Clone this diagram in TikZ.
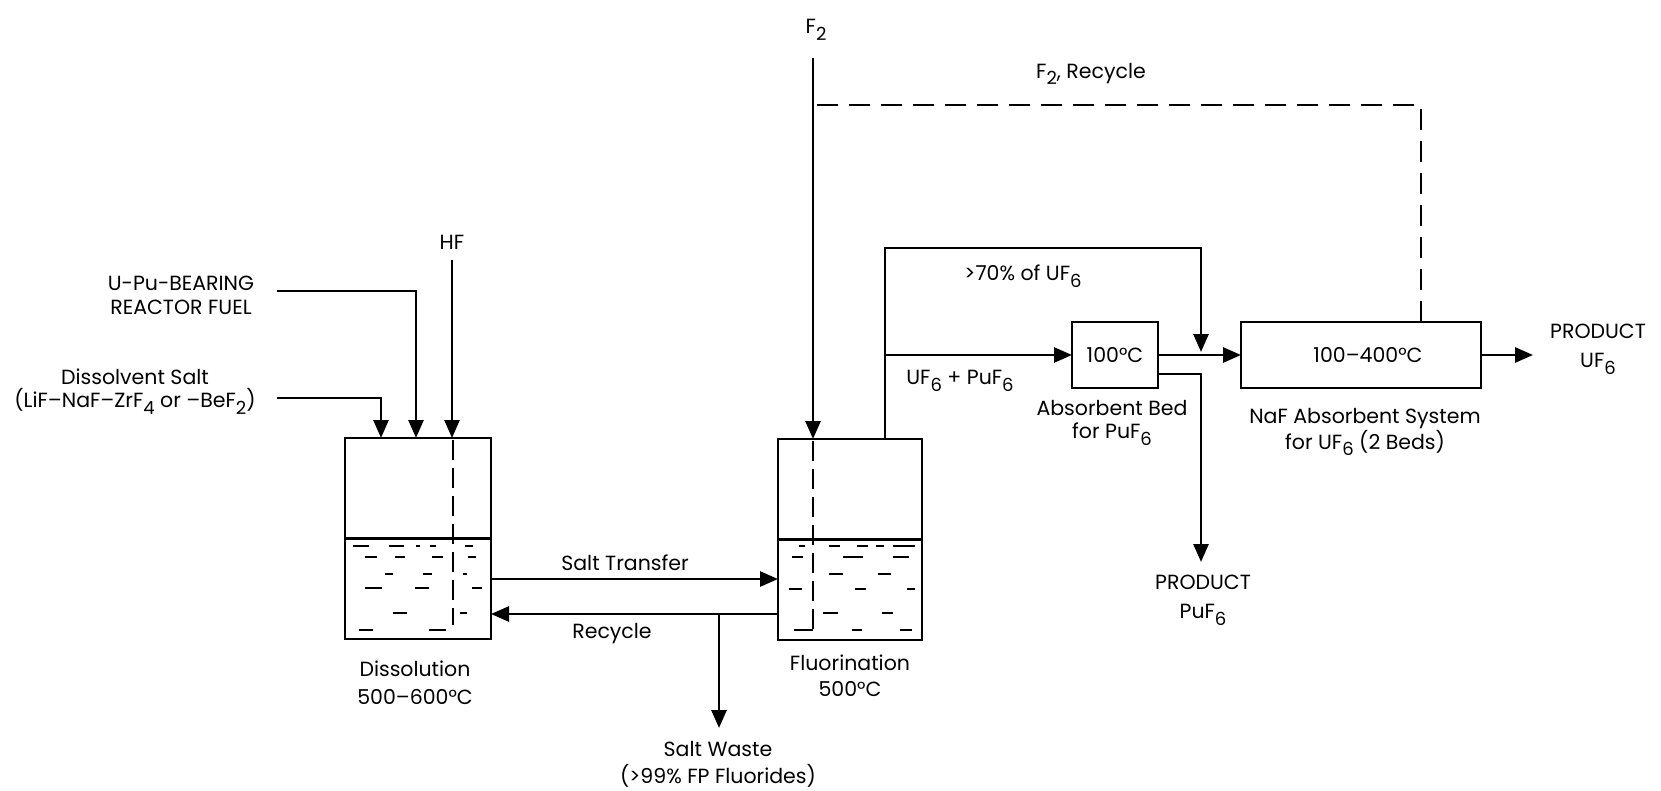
\documentclass[tikz,border=0pt]{standalone}
\usepackage{fontspec}
\setmainfont{Poppins}
\usetikzlibrary{arrows.meta}
\newcommand\sbs[1]{\raisebox{-0.6ex}{\fontsize{18}{18}\selectfont #1}}
\begin{document}
\begin{tikzpicture}[x=1pt,y=-1pt,line width=2.8pt,
  lbl/.style={font=\fontsize{20.5}{25}\selectfont,align=center,inner sep=0pt},
  arr/.style={-{Triangle[length=18pt,width=15pt]}},
  dsh/.style={dash pattern=on 21pt off 11pt},
  liq/.style={line width=2.2pt},
  vessel/.style={draw,minimum width=146pt,minimum height=201pt,inner sep=0pt,outer sep=0pt},
  box/.style={draw,minimum height=66pt,inner sep=0pt,outer sep=0pt,font=\fontsize{20.5}{24}\selectfont}]
\useasboundingbox (0,0) rectangle (1661,791);
\fill[white] (0,0) rectangle (1661,791);

% vessels
\node[vessel] (diss) at (418,538.5) {};
\node[vessel,minimum width=144pt] (fluor) at (850,539.5) {};
\draw (diss.west) -- (diss.east);
\draw (fluor.west) -- (fluor.east);

% absorbers
\node[box,minimum width=86pt] (abs) at (1115,355) {100°C};
\node[box,minimum width=240pt] (naf) at (1361,355) {\hspace*{14pt}100–400°C};

% labels
\node[lbl] (f2) at (816,30) {F\sbs{2}};
\node[lbl] (f2r) at (1091,74) {F\sbs{2}, Recycle};
\node[lbl] (hf) at (452,242) {HF};
\node[lbl,font=\fontsize{20.5}{24}\selectfont] (fuel) at (181,295) {U-Pu-BEARING\\REACTOR FUEL};
\node[lbl,font=\fontsize{20.5}{23}\selectfont] (salt) at (135,392) {Dissolvent Salt\\(LiF–NaF–ZrF\sbs{4} or –BeF\sbs{2})};
\node[lbl,font=\fontsize{20.5}{28}\selectfont] (dissl) at (415,683) {Dissolution\\500–600°C};
\node[lbl,font=\fontsize{20.5}{26}\selectfont] (fluorl) at (850,676) {Fluorination\\500°C};
\node[lbl] (st) at (625,563) {Salt Transfer};
\node[lbl] (rec) at (612,634) {Recycle};
\node[lbl,font=\fontsize{20.5}{27}\selectfont] (waste) at (718,764) {Salt Waste\\(>99\% FP Fluorides)};
\node[lbl] (p70) at (1023,276) {>70\% of UF\sbs{6}};
\node[lbl] (mix) at (960,381) {UF\sbs{6} + PuF\sbs{6}};
\node[lbl,font=\fontsize{20.5}{23}\selectfont] (absl) at (1112,423) {Absorbent Bed\\for PuF\sbs{6}};
\node[lbl,font=\fontsize{20.5}{26}\selectfont] (nafl) at (1365,432) {NaF Absorbent System\\for UF\sbs{6} (2 Beds)};
\node[lbl,font=\fontsize{20.5}{29}\selectfont] (pu) at (1598,349) {PRODUCT\\UF\sbs{6}};
\node[lbl,font=\fontsize{20.5}{29}\selectfont] (ppu) at (1203,600) {PRODUCT\\PuF\sbs{6}};

% coordinates of free ends
\coordinate (f2s) at (813,58);
\coordinate (rj) at (813,105);
\coordinate (hfs) at (452,260);
\coordinate (fuels) at (277,291);
\coordinate (salts) at (277,398);
\coordinate (wj) at (719,614);
\coordinate (wt) at (719,728);
\coordinate (up) at (885,248);
\coordinate (mj) at (885,355);
\coordinate (byp) at (1201,248);
\coordinate (pt) at (1201,562);
\coordinate (ut) at (1533,355);

% feeds
\draw[arr] (f2s) -- (f2s |- fluor.north);
\draw[dsh] ([xshift=60pt]naf.north) |- (rj);
\draw[arr] (hfs) -- (hfs |- diss.north);
\draw[arr] (fuels) -| ([xshift=-2pt]diss.north);
\draw[arr] (salts) -| ([xshift=-37pt]diss.north);

% salt loop
\draw[arr] ([yshift=-40.5pt]diss.east) -- ([yshift=-40.5pt]diss.east -| fluor.west);
\draw[arr] ([yshift=-74.5pt]fluor.west) -- ([yshift=-74.5pt]fluor.west -| diss.east);
\draw[arr] (wj) -- (wt);

% gas train
\draw (mj) -- (up |- fluor.north);
\draw[arr] (mj) |- (byp) -- ([yshift=3pt]byp |- abs.east);
\draw[arr] (mj) -- (abs.west);
\draw[arr] (abs.east) -- (naf.west);
\draw[arr] ([yshift=-19pt]abs.east) -| (pt);
\draw[arr] (naf.east) -- (ut);

% dashed dip lines
\draw[dash pattern=on 20pt off 8pt] (453,440) -- (453,625);
\draw[dash pattern=on 20pt off 8pt] (813,441) -- (813,630);

% liquid marks dissolution
\foreach \a/\b/\y in {353/369/546,389/404/546,416/420/546,430/436/546,465/473/546,
  365/377/557,395/405/557,432/443/557,468/476/557,
  385/393/574,423/432/574,463/467/574,
  365/382/588,415/429/588,472/482/588,
  393/407/613,460/467/613,
  359/373/630,429/446/630}
  \draw[liq] (\a,\y) -- (\b,\y);
% liquid marks fluorination
\foreach \a/\b/\y in {799/805/546,829/840/546,857/868/546,876/884/546,893/915/546,
  792/803/557,843/863/557,893/909/557,
  829/843/574,878/891/574,
  789/802/589,855/866/589,907/915/589,
  823/838/613,882/893/613,
  794/813/630,852/862/630,900/912/630}
  \draw[liq] (\a,\y) -- (\b,\y);
\end{tikzpicture}
\end{document}
